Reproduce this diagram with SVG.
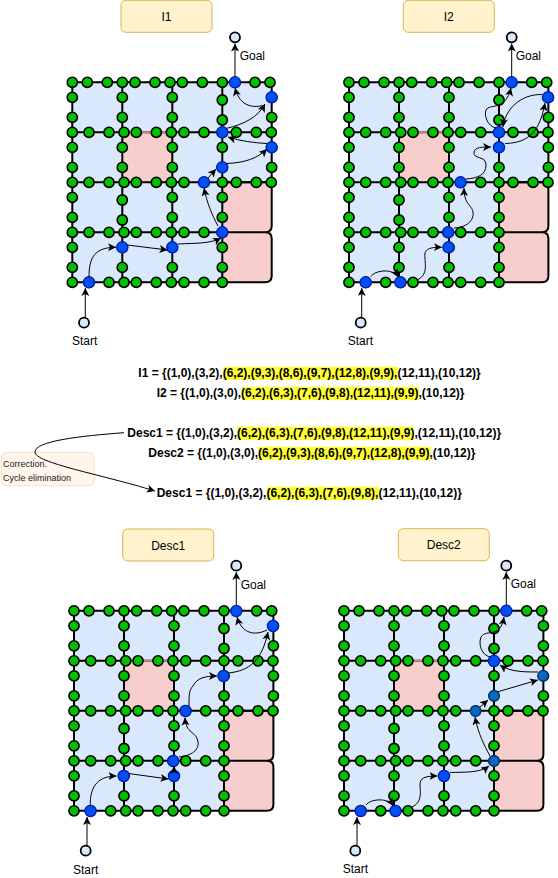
<svg xmlns="http://www.w3.org/2000/svg" width="558" height="878" viewBox="0 0 558 878">
<style>
text{font-family:"Liberation Sans",Arial,sans-serif;fill:#000}
.t{font-size:12px}
.m{text-anchor:middle}
.b{font-size:12px;font-weight:bold}
.s{font-size:9px;fill:#222}
.g{fill:#00c000;stroke:#000;stroke-width:1.6;r:5.1px}
.n{fill:#0050ef;stroke:#001dbc;stroke-width:1.3;r:5.6px}
.d{fill:#0a68c0;stroke:#003a78;stroke-width:1.3;r:5.2px}
.o{fill:#dae8fc;stroke:#000;stroke-width:1.8;r:5px}
.h{fill:#ffff33}
.title{fill:#fff2cc;stroke:#d6b656}
.l{fill:none;stroke:#000;stroke-width:2}
.c{fill:none;stroke:#000;stroke-width:1;marker-end:url(#a)}
</style>
<defs>
<marker id="a" markerUnits="userSpaceOnUse" markerWidth="10" markerHeight="10" refX="8" refY="4" orient="auto">
<path d="M0 0L8 4L0 8L2 4Z" fill="#000"/>
</marker>
<g id="grid">
<rect x="72.3" y="82.3" width="150" height="200" fill="#dae8fc"/>
<rect x="222.3" y="82.3" width="49.4" height="100" fill="#dae8fc"/>
<rect x="122.3" y="132.3" width="50" height="50" fill="#f8cecc"/>
<path d="M222.3 182.3H271.7V282.3H222.3Z" fill="#f8cecc"/>
<path class="l" d="M72.3 82.3H271.7M72.3 132.3H271.7M72.3 182.3H271.7M72.3 232.3H222.3M72.3 282.3H222.3M72.3 82.3V282.3M122.3 82.3V282.3M172.3 82.3V282.3M222.3 82.3V282.3M271.7 82.3V182.3"/>
<path class="l" d="M222.3 182.3H271.7V226Q271.7 232.3 265 232.3H222.3M222.3 232.3H265Q271.7 232.3 271.7 238.5V276Q271.7 282.3 265 282.3H222.3"/>
<path d="M127 132.3H168" stroke="#c98a88" stroke-width="2" fill="none"/>
<circle class="g" cx="72.3" cy="82.3"/><circle class="g" cx="87.3" cy="82.3"/><circle class="g" cx="107.3" cy="82.3"/><circle class="g" cx="122.3" cy="82.3"/><circle class="g" cx="135" cy="82.3"/><circle class="g" cx="155" cy="82.3"/><circle class="g" cx="170" cy="82.3"/><circle class="g" cx="182.3" cy="82.3"/><circle class="g" cx="202.3" cy="82.3"/><circle class="g" cx="222.3" cy="82.3"/><circle class="g" cx="255" cy="82.3"/><circle class="g" cx="270" cy="82.3"/>
<circle class="g" cx="72.3" cy="132.3"/><circle class="g" cx="89" cy="132.3"/><circle class="g" cx="109" cy="132.3"/><circle class="g" cx="124" cy="132.3"/><circle class="g" cx="136.3" cy="132.3"/><circle class="g" cx="156.3" cy="132.3"/><circle class="g" cx="171.3" cy="132.3"/><circle class="g" cx="184" cy="132.3"/><circle class="g" cx="204" cy="132.3"/><circle class="g" cx="222.3" cy="132.3"/><circle class="g" cx="236.3" cy="132.3"/><circle class="g" cx="256.3" cy="132.3"/><circle class="g" cx="271.3" cy="132.3"/>
<circle class="g" cx="72.3" cy="182.3"/><circle class="g" cx="89" cy="182.3"/><circle class="g" cx="109" cy="182.3"/><circle class="g" cx="124" cy="182.3"/><circle class="g" cx="136.3" cy="182.3"/><circle class="g" cx="156.3" cy="182.3"/><circle class="g" cx="171.3" cy="182.3"/><circle class="g" cx="184" cy="182.3"/><circle class="g" cx="204" cy="182.3"/><circle class="g" cx="222.3" cy="182.3"/><circle class="g" cx="236.3" cy="182.3"/><circle class="g" cx="256.3" cy="182.3"/><circle class="g" cx="271.3" cy="182.3"/>
<circle class="g" cx="72.3" cy="232.3"/><circle class="g" cx="89" cy="232.3"/><circle class="g" cx="109" cy="232.3"/><circle class="g" cx="124" cy="232.3"/><circle class="g" cx="136.3" cy="232.3"/><circle class="g" cx="156.3" cy="232.3"/><circle class="g" cx="171.3" cy="232.3"/><circle class="g" cx="184" cy="232.3"/><circle class="g" cx="204" cy="232.3"/><circle class="g" cx="222.3" cy="232.3"/>
<circle class="g" cx="72.3" cy="282.3"/><circle class="g" cx="89" cy="282.3"/><circle class="g" cx="109" cy="282.3"/><circle class="g" cx="124" cy="282.3"/><circle class="g" cx="136.3" cy="282.3"/><circle class="g" cx="156.3" cy="282.3"/><circle class="g" cx="171.3" cy="282.3"/><circle class="g" cx="184" cy="282.3"/><circle class="g" cx="204" cy="282.3"/><circle class="g" cx="222.3" cy="282.3"/>
<circle class="g" cx="72.3" cy="97.3"/><circle class="g" cx="72.3" cy="117.3"/><circle class="g" cx="122.3" cy="97.3"/><circle class="g" cx="122.3" cy="117.3"/><circle class="g" cx="172.3" cy="97.3"/><circle class="g" cx="172.3" cy="117.3"/><circle class="g" cx="222.3" cy="100"/><circle class="g" cx="222.3" cy="120"/><circle class="g" cx="271.7" cy="97.3"/><circle class="g" cx="271.7" cy="117.3"/>
<circle class="g" cx="72.3" cy="147.3"/><circle class="g" cx="72.3" cy="167.3"/><circle class="g" cx="122.3" cy="147.3"/><circle class="g" cx="122.3" cy="167.3"/><circle class="g" cx="172.3" cy="147.3"/><circle class="g" cx="172.3" cy="167.3"/><circle class="g" cx="222.3" cy="147.3"/><circle class="g" cx="222.3" cy="167.3"/><circle class="g" cx="271.7" cy="147.3"/><circle class="g" cx="271.7" cy="167.3"/>
<circle class="g" cx="72.3" cy="197.3"/><circle class="g" cx="72.3" cy="217.3"/><circle class="g" cx="122.3" cy="200"/><circle class="g" cx="122.3" cy="220"/><circle class="g" cx="172.3" cy="197.3"/><circle class="g" cx="172.3" cy="217.3"/><circle class="g" cx="222.3" cy="197.3"/><circle class="g" cx="222.3" cy="217.3"/>
<circle class="g" cx="72.3" cy="247.3"/><circle class="g" cx="72.3" cy="267.3"/><circle class="g" cx="122.3" cy="247.3"/><circle class="g" cx="122.3" cy="267.3"/><circle class="g" cx="172.3" cy="247.3"/><circle class="g" cx="172.3" cy="267.3"/><circle class="g" cx="222.3" cy="247.3"/><circle class="g" cx="222.3" cy="267.3"/>
</g>
</defs>
<rect width="558" height="878" fill="#fff"/>

<g id="panel-I1">
<use href="#grid"/>
<g id="I1-waypoints">
<circle class="n" cx="89" cy="282.3"/><circle class="n" cx="122.3" cy="247.3"/><circle class="n" cx="172.3" cy="247.3"/><circle class="n" cx="222.3" cy="232.3"/><circle class="n" cx="204" cy="182.3"/><circle class="n" cx="222.3" cy="167.3"/><circle class="n" cx="271.7" cy="147.3"/><circle class="n" cx="222.3" cy="132.3"/><circle class="n" cx="271.7" cy="97.3"/><circle class="n" cx="235" cy="82.3"/>
</g>
<g id="I1-title"><rect class="title" x="121" y="0.3" width="91" height="32" rx="5"/><text class="t m" x="166.5" y="20.5">I1</text></g>
<g id="I1-start"><circle class="o" cx="84" cy="322.7"/><text class="t" x="72" y="345">Start</text></g>
<g id="I1-goal"><circle class="o" cx="235" cy="37.3"/><text class="t" x="239.7" y="60">Goal</text></g>
</g>

<g id="panel-I2">
<use href="#grid" x="276.7"/>
<g id="I2-waypoints">
<circle class="n" cx="365.7" cy="282.3"/><circle class="n" cx="400.3" cy="282.3"/><circle class="n" cx="448.5" cy="247.3"/><circle class="n" cx="448.2" cy="232.3"/><circle class="n" cx="460.5" cy="182.3"/><circle class="n" cx="499" cy="147.3"/><circle class="n" cx="499" cy="132.3"/><circle class="n" cx="548" cy="97.3"/><circle class="n" cx="511.7" cy="82.3"/>
</g>
<g id="I2-title"><rect class="title" x="403.3" y="0.3" width="91" height="32" rx="5"/><text class="t m" x="448.8" y="20.5">I2</text></g>
<g id="I2-start"><circle class="o" cx="360.7" cy="322.7"/><text class="t" x="347.7" y="345">Start</text></g>
<g id="I2-goal"><circle class="o" cx="511.7" cy="37.3"/><text class="t" x="515.7" y="60">Goal</text></g>
</g>

<g id="panel-Desc1">
<use href="#grid" x="1.7" y="528.5"/>
<g id="Desc1-waypoints">
<circle class="n" cx="90.5" cy="811"/><circle class="n" cx="123.7" cy="776"/><circle class="n" cx="174" cy="776"/><circle class="n" cx="173.3" cy="761"/><circle class="n" cx="185.5" cy="711"/><circle class="n" cx="223.5" cy="676"/><circle class="n" cx="273" cy="626"/><circle class="n" cx="236.3" cy="611"/>
</g>
<g id="Desc1-title"><rect class="title" x="122.7" y="529" width="91" height="32" rx="5"/><text class="t m" x="168.2" y="549.5">Desc1</text></g>
<g id="Desc1-start"><circle class="o" cx="85.7" cy="850.7"/><text class="t" x="73" y="874">Start</text></g>
<g id="Desc1-goal"><circle class="o" cx="236.3" cy="565.7"/><text class="t" x="240.7" y="589">Goal</text></g>
</g>

<g id="panel-Desc2">
<use href="#grid" x="271.7" y="528.5"/>
<g id="Desc2-waypoints">
<circle class="n" cx="360.7" cy="811"/><circle class="n" cx="395.5" cy="811"/><circle class="n" cx="444" cy="776"/><circle class="d" cx="494" cy="761"/><circle class="d" cx="475.5" cy="711"/><circle class="d" cx="494" cy="695.8"/><circle class="d" cx="543" cy="675.8"/><circle class="n" cx="494" cy="661"/><circle class="n" cx="506.3" cy="610.8"/>
</g>
<g id="Desc2-title"><rect class="title" x="398.3" y="528.7" width="91" height="32" rx="5"/><text class="t m" x="443.8" y="549">Desc2</text></g>
<g id="Desc2-start"><circle class="o" cx="355.3" cy="850.7"/><text class="t" x="342.7" y="873">Start</text></g>
<g id="Desc2-goal"><circle class="o" cx="506.3" cy="565.7"/><text class="t" x="510.7" y="588">Goal</text></g>
</g>

<g id="sets">
<rect class="h" x="223" y="366.7" width="174.7" height="13.3"/>
<rect class="h" x="241.7" y="386.7" width="177.3" height="13.3"/>
<rect class="h" x="237" y="426.7" width="177" height="13.3"/>
<rect class="h" x="258.3" y="446.7" width="172.4" height="13.3"/>
<rect class="h" x="267" y="486.7" width="112" height="13.3"/>
<text class="b" x="138.3" y="377">I1 = {(1,0),(3,2),(6,2),(9,3),(8,6),(9,7),(12,8),(9,9),(12,11),(10,12)}</text>
<text class="b" x="156.7" y="397">I2 = {(1,0),(3,0),(6,2),(6,3),(7,6),(9,8),(12,11),(9,9),(10,12)}</text>
<text class="b" x="127.3" y="437">Desc1 = {(1,0),(3,2),(6,2),(6,3),(7,6),(9,8),(12,11),(9,9),(12,11),(10,12)}</text>
<text class="b" x="148.3" y="457">Desc2 = {(1,0),(3,0),(6,2),(9,3),(8,6),(9,7),(12,8),(9,9),(10,12)}</text>
<text class="b" x="156.7" y="497">Desc1 = {(1,0),(3,2),(6,2),(6,3),(7,6),(9,8),(12,11),(10,12)}</text>
</g>

<g id="correction-note">
<rect x="1.3" y="452.3" width="92.7" height="33.4" rx="5" fill="#fff5ea" stroke="#f2e0c4"/>
<text class="s" x="3" y="467">Correction.</text>
<text class="s" x="3" y="481">Cycle elimination</text>
</g>

<g id="connectors">
<path class="c" d="M85.3 318V288"/>
<path class="c" d="M89 277C89 257 95 247.3 116 247.3"/>
<path class="c" d="M127.3 245L167.5 250"/>
<path class="c" d="M178 244C195 243 210 244 221 238"/>
<path class="c" d="M218 226C212 215 207 203 204 188"/>
<path class="c" d="M208 178L216 169"/>
<path class="c" d="M226 163.5C245 163 258 158 267 149"/>
<path class="c" d="M267 143.5C255 143 240 141 228 137"/>
<path class="c" d="M226 128.5C245 124 258 117 265 104"/>
<path class="c" d="M265 105C255 108 240 108 235 88"/>
<path class="c" d="M235 77V43.5"/>

<path class="c" d="M361.7 318V288"/>
<path class="c" d="M370.7 276.7C375 270 393 268 398 277"/>
<path class="c" d="M417 280C428 275 425 265 425 258C424 250 427 247 442 247.3"/>
<path class="c" d="M454 228C470 227 474 218 473 212C472 205 464 205 464 188"/>
<path class="c" d="M466 179C478 178 486 175 486 165C486 155 473 160 474 152C475 147 482 147 491 147"/>
<path class="c" d="M505 143.5C530 143 540 130 545 103"/>
<path class="c" d="M542 94.5C520 94 505 110 503 127"/>
<path class="c" d="M496 128C487 126 484 115 486 110C490 103 505 112 511 88"/>
<path class="c" d="M511.7 77V43.5"/>

<path class="c" d="M87 846.5V817"/>
<path class="c" d="M90.3 805C90 790 95 776 116.5 776"/>
<path class="c" d="M128.5 773.5L168.5 779"/>
<path class="c" d="M174 772L174 766"/>
<path class="c" d="M179 757C195 755 199 748 198 742C196 730 186 735 185 717.5"/>
<path class="c" d="M189 706C189 695 189 690 193 686C197 678 205 676 217 676"/>
<path class="c" d="M228 673C250 671 262 660 268 632"/>
<path class="c" d="M267 630C255 636 242 634 237 617"/>
<path class="c" d="M236.3 605V572"/>

<path class="c" d="M357 846.5V817"/>
<path class="c" d="M366 805C370 799 388 797 393 806"/>
<path class="c" d="M412 807C423 802 420 790 420 785C420 778 424 776 437.5 776"/>
<path class="c" d="M450 772.5C465 772 480 773 489 766"/>
<path class="c" d="M490 756C484 745 478 733 475 717"/>
<path class="c" d="M480 707L488 700"/>
<path class="c" d="M497 692L538 680"/>
<path class="c" d="M538 672C525 672 510 672 500 665"/>
<path class="c" d="M490 657C482 655 478 645 481 637C487 628 500 640 504 617"/>
<path class="c" d="M506.3 605V572"/>

<path class="c" d="M124 432.7C80 436 35 441 35 452C35 463 100 474 155 491"/>
</g>
</svg>
